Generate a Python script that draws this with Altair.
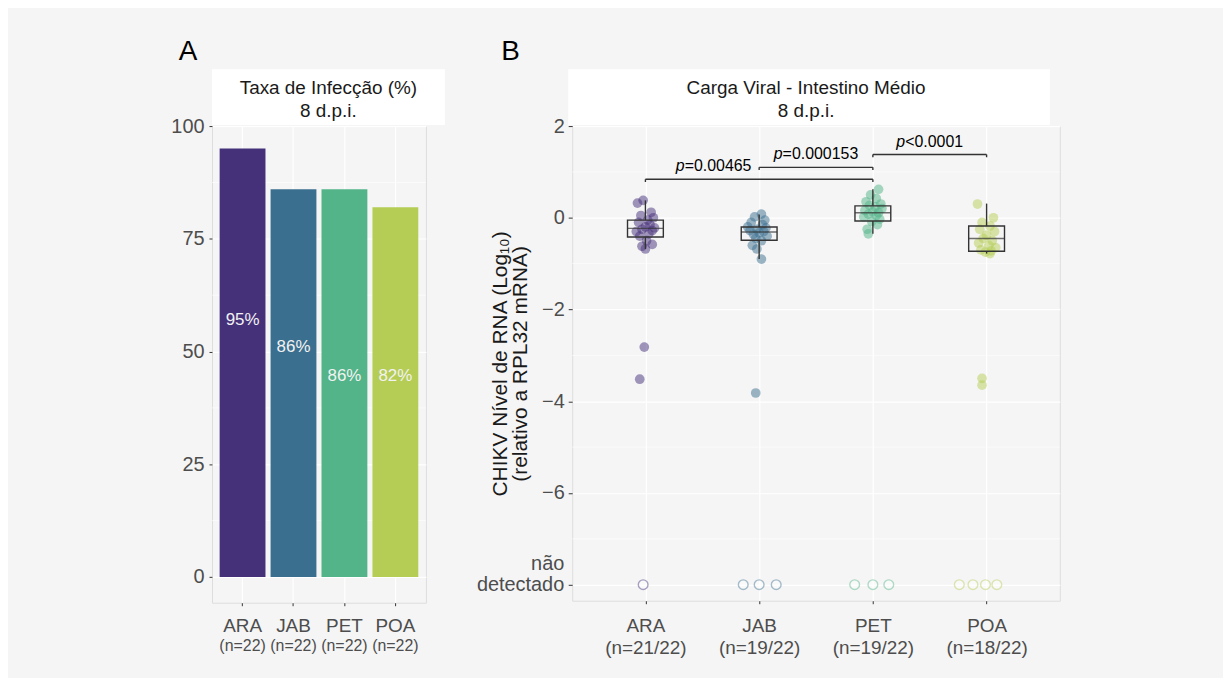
import json
import altair as alt
import pandas as pd

# ---------------- data ----------------
pops = ["ARA", "JAB", "PET", "POA"]
pop_colors = ["#45307a", "#3b6f8f", "#52b488", "#b5cd55"]

# Panel A
infection_rate = [95, 86, 86, 82]
rate_text = ["95%", "86%", "86%", "82%"]
rate_text_y = [57, 51, 44.5, 44.5]
n_text_a = ["(n=22)", "(n=22)", "(n=22)", "(n=22)"]
a_y_ticks = [0, 25, 50, 75, 100]
a_y_minor = [12.5, 37.5, 62.5, 87.5]

# Panel B (log10 viral load, detected samples)
ara_vals = [0.38, 0.32, 0.12, 0.05, 0.0, -0.05, -0.1, -0.15, -0.2, -0.22, -0.25,
            -0.28, -0.3, -0.35, -0.4, -0.5, -0.58, -0.62, -0.68, -2.82, -3.52]
ara_jit = [-0.02, -0.07, 0.05, -0.04, 0.07, 0.02, -0.06, 0.04, 0.0, 0.08, -0.03,
           0.06, -0.08, 0.03, -0.05, 0.01, 0.06, -0.03, 0.0, -0.01, -0.05]
jab_vals = [0.08, 0.02, -0.05, -0.1, -0.15, -0.2, -0.22, -0.25, -0.28, -0.3,
            -0.33, -0.36, -0.4, -0.45, -0.5, -0.6, -0.68, -0.9, -3.82]
jab_jit = [0.02, -0.04, 0.05, -0.07, 0.03, -0.1, 0.06, -0.02, -0.08, 0.04,
           0.0, -0.05, 0.07, -0.03, 0.02, -0.06, -0.02, 0.02, -0.03]
pet_vals = [0.62, 0.5, 0.42, 0.35, 0.3, 0.27, 0.24, 0.2, 0.16, 0.13, 0.11,
            0.08, 0.05, 0.02, -0.03, -0.08, -0.15, -0.25, -0.35]
pet_jit = [0.05, -0.02, 0.03, -0.06, 0.07, -0.03, 0.02, 0.08, -0.07, 0.0, 0.05,
           -0.04, 0.03, -0.08, 0.06, -0.01, 0.04, -0.05, -0.04]
poa_vals = [0.3, 0.0, -0.1, -0.18, -0.25, -0.3, -0.38, -0.45, -0.5, -0.55,
            -0.6, -0.65, -0.7, -0.72, -0.75, -0.78, -3.5, -3.65]
poa_jit = [-0.08, 0.06, -0.04, 0.03, -0.06, 0.07, 0.0, -0.03, 0.05, -0.07,
           0.02, 0.08, -0.05, 0.04, -0.01, 0.03, -0.04, -0.04]

# not detected samples (plotted at the "não detectado" level)
nd_level = -8
ara_nd_jit = [-0.02]
jab_nd_jit = [-0.14, 0.0, 0.15]
pet_nd_jit = [-0.16, 0.0, 0.14]
poa_nd_jit = [-0.24, -0.12, -0.01, 0.09]

# box summaries
box_lo = [-0.68, -0.9, -0.35, -0.78]
box_q1 = [-0.42, -0.49, -0.07, -0.73]
box_med = [-0.23, -0.31, 0.11, -0.45]
box_q3 = [-0.05, -0.2, 0.26, -0.18]
box_hi = [0.38, 0.07, 0.62, 0.31]

n_text_b = ["(n=21/22)", "(n=19/22)", "(n=19/22)", "(n=18/22)"]
b_y_ticks = [2, 0, -2, -4, -6, -8]
b_y_minor = [1, -1, -3, -5, -7]

# significance brackets
br_from = [1, 2, 3]
br_to = [3, 3, 4]
br_y = [0.84, 1.1, 1.38]
br_text = ["=0.00465", "=0.000153", "<0.0001"]
br_text_x = [1.6, 2.5, 3.5]
br_text_y = [1.12, 1.39, 1.66]

strip_a = ["Taxa de Infecção (%)", "8 d.p.i."]
strip_b = ["Carga Viral - Intestino Médio", "8 d.p.i."]
b_y_title = ["CHIKV Nível de RNA (Log\u2081\u2080)", "(relativo a  RPL32 mRNA)"]

# ---------------- style ----------------
FONT = "Liberation Sans"
LAB = "#4d4d4d"
TXT = "#1a1a1a"
TICK = "#333333"
WA, HA = 215, 479
WB, HB = 490, 477

color_scale = alt.Scale(domain=pops, range=pop_colors)

# ---------------- panel A ----------------
df_a = pd.DataFrame({"pop": pops, "rate": infection_rate, "lab": rate_text,
                     "laby": rate_text_y, "n": n_text_a})

xA = alt.X("pop:N", sort=pops,
           scale=alt.Scale(paddingInner=0.1, paddingOuter=0.15),
           axis=alt.Axis(title=None, labelFontSize=19, labelColor=LAB, labelAngle=0,
                         labelPadding=11, tickSize=3, tickColor=TICK, domain=False,
                         grid=True, gridColor="white", gridWidth=1.2,
                         bandPosition=0.5))
yA_scale = alt.Scale(domain=[-5.7, 100], nice=False, zero=False)
yA_axis = alt.Axis(title=None, values=a_y_ticks, labelFontSize=20, labelColor=LAB,
                   labelPadding=5, tickSize=3, tickColor=TICK, domain=False,
                   grid=True, gridColor="white", gridWidth=1.2)

minorA = alt.Chart(pd.DataFrame({"v": a_y_minor})).mark_rule(
    color="white", strokeWidth=0.6).encode(y=alt.Y("v:Q", scale=yA_scale, axis=yA_axis))
barsA = alt.Chart(df_a).mark_bar().encode(
    x=xA, y=alt.Y("rate:Q", scale=yA_scale, axis=yA_axis),
    color=alt.Color("pop:N", scale=color_scale, legend=None))
labA = alt.Chart(df_a).mark_text(fontSize=17, color="#f2f2f2", font=FONT).encode(
    x=xA, y=alt.Y("laby:Q", scale=yA_scale, axis=yA_axis), text="lab:N")
nA = alt.Chart(df_a).mark_text(fontSize=16, color=LAB, font=FONT, baseline="middle").encode(
    x=xA, y=alt.value(HA + 44), text="n:N")
one = alt.Data(values=[{"k": 1}])
stripA = alt.Chart(one).mark_rect(color="white").encode(
    x=alt.value(0), x2=alt.value(WA + 19), y=alt.value(-57), y2=alt.value(-1))
stripTA = alt.Chart(one).mark_text(text=strip_a, fontSize=19, color=TXT, font=FONT,
                                   lineHeight=23, baseline="middle").encode(
    x=alt.value((WA + 19) / 2), y=alt.value(-38))
letterA = alt.Chart(one).mark_text(text="A", fontSize=28, color="black", font=FONT,
                                   baseline="middle").encode(
    x=alt.value(-24), y=alt.value(-74))

panelA = alt.layer(minorA, barsA, labA, nA, stripA, stripTA, letterA).properties(
    width=WA, height=HA)

# ---------------- panel B ----------------
rows = []
for p, vals, jit in [("ARA", ara_vals, ara_jit), ("JAB", jab_vals, jab_jit),
                     ("PET", pet_vals, pet_jit), ("POA", poa_vals, poa_jit)]:
    for v, j in zip(vals, jit):
        rows.append({"pop": p, "idx": pops.index(p) + 1, "jit": j, "val": v})
df_pts = pd.DataFrame(rows)
rows = []
for p, jit in [("ARA", ara_nd_jit), ("JAB", jab_nd_jit), ("PET", pet_nd_jit),
               ("POA", poa_nd_jit)]:
    for j in jit:
        rows.append({"pop": p, "idx": pops.index(p) + 1, "jit": j, "val": nd_level})
df_nd = pd.DataFrame(rows)
df_box = pd.DataFrame({"pop": pops, "idx": [1, 2, 3, 4], "lo": box_lo, "q1": box_q1,
                       "med": box_med, "q3": box_q3, "hi": box_hi})
df_br = pd.DataFrame({"a": br_from, "b": br_to, "y": br_y})
df_brend = pd.DataFrame({"x": br_from + br_to, "y": br_y + br_y})

label_arrays = [[p, n] for p, n in zip(pops, n_text_b)]
xB_scale = alt.Scale(domain=[0.4, 4.6], nice=False, zero=False)
xB_axis = alt.Axis(title=None, values=[1, 2, 3, 4],
                   labelExpr=json.dumps(label_arrays) + "[datum.value - 1]",
                   labelFontSize=19, labelColor=LAB, labelLineHeight=22,
                   labelPadding=13, tickSize=3, tickColor=TICK, domain=False,
                   grid=True, gridColor="white", gridWidth=1.2, labelBaseline="top")
yB_scale = alt.Scale(domain=[-8.35, 2.0], nice=False, zero=False)
yB_axis = alt.Axis(title=b_y_title, values=b_y_ticks,
                   labelExpr="datum.value == -8 ? '' : (datum.value < 0 ? '\u2212' + abs(datum.value) : '' + datum.value)",
                   labelFontSize=20, labelColor=LAB, labelPadding=4, tickSize=4,
                   tickColor=TICK, domain=False, grid=True, gridColor="white",
                   gridWidth=1.2, titleFontSize=21, titleFontWeight="normal",
                   titleColor=TXT, titlePadding=11, titleLineHeight=20)


def xb(f):
    return alt.X(f, type="quantitative", scale=xB_scale, axis=xB_axis)


def yb(f):
    return alt.Y(f, type="quantitative", scale=yB_scale, axis=yB_axis)


minorB = alt.Chart(pd.DataFrame({"v": b_y_minor})).mark_rule(
    color="white", strokeWidth=0.6).encode(y=yb("v"))
ndB = alt.Chart(df_nd).transform_calculate(xp="datum.idx + datum.jit").mark_point(
    shape="circle", filled=False, size=95, strokeWidth=1.4, strokeOpacity=0.45,
    fill="white", fillOpacity=0.45).encode(
    x=xb("xp"), y=yb("val"),
    color=alt.Color("pop:N", scale=color_scale, legend=None))
ptsB = alt.Chart(df_pts).transform_calculate(xp="datum.idx + datum.jit").mark_circle(
    size=95, opacity=0.5).encode(
    x=xb("xp"), y=yb("val"),
    color=alt.Color("pop:N", scale=color_scale, legend=None))
whisk1 = alt.Chart(df_box).mark_rule(color=TICK, strokeWidth=1.4).encode(
    x=xb("idx"), y=yb("q3"), y2="hi")
whisk2 = alt.Chart(df_box).mark_rule(color=TICK, strokeWidth=1.4).encode(
    x=xb("idx"), y=yb("lo"), y2="q1")
boxB = alt.Chart(df_box).mark_bar(size=36, fillOpacity=0, stroke=TICK,
                                  strokeWidth=1.4).encode(
    x=xb("idx"), y=yb("q1"), y2="q3")
medB = alt.Chart(df_box).mark_tick(orient="horizontal", size=36, thickness=1.4,
                                   color=TICK).encode(x=xb("idx"), y=yb("med"))
brB = alt.Chart(df_br).mark_rule(color=TICK, strokeWidth=1.4).encode(
    x=xb("a"), x2="b", y=yb("y"))
brEnd = alt.Chart(df_brend).transform_calculate(y2="datum.y - 0.06").mark_rule(
    color=TICK, strokeWidth=1.4).encode(x=xb("x"), y=yb("y"), y2="y2:Q")

# p-value text: italic "p" followed by the rest
CW = {"=": 0.584, "<": 0.584, ".": 0.278, "p": 0.556}
PFS = 16


def tw(s):
    return sum(CW.get(c, 0.556) for c in s) * PFS


p_layers = []
for tx, lx, ly in zip(br_text, br_text_x, br_text_y):
    total = tw("p") + tw(tx)
    d = pd.DataFrame({"x": [lx], "y": [ly], "t": [tx]})
    p_layers.append(alt.Chart(d).mark_text(
        text="p", fontStyle="italic", fontSize=PFS, color="black", font=FONT,
        align="left", dx=-total / 2).encode(x=xb("x"), y=yb("y")))
    p_layers.append(alt.Chart(d).mark_text(
        fontSize=PFS, color="black", font=FONT, align="left",
        dx=-total / 2 + tw("p")).encode(x=xb("x"), y=yb("y"), text="t:N"))

ndlab = pd.DataFrame({"y": [nd_level, nd_level], "t": ["detectado", "não"]})
ndText1 = alt.Chart(ndlab.iloc[[0]]).mark_text(
    fontSize=20, color=LAB, font=FONT, align="right", baseline="middle").encode(
    x=alt.value(-8), y=yb("y"), text="t:N")
ndText2 = alt.Chart(ndlab.iloc[[1]]).mark_text(
    fontSize=20, color=LAB, font=FONT, align="right", baseline="middle", dy=-21).encode(
    x=alt.value(-8), y=yb("y"), text="t:N")

stripB = alt.Chart(one).mark_rect(color="white").encode(
    x=alt.value(-4), x2=alt.value(WB - 10), y=alt.value(-57), y2=alt.value(-1))
stripTB = alt.Chart(one).mark_text(text=strip_b, fontSize=19, color=TXT, font=FONT,
                                   lineHeight=23, baseline="middle").encode(
    x=alt.value(WB / 2 - 10), y=alt.value(-38))
letterB = alt.Chart(one).mark_text(text="B", fontSize=28, color="black", font=FONT,
                                   baseline="middle").encode(
    x=alt.value(-62), y=alt.value(-74))

panelB = alt.layer(minorB, ndB, ptsB, whisk1, whisk2, boxB, medB, brB, brEnd,
                   *p_layers, ndText1, ndText2, stripB, stripTB, letterB).properties(
    width=WB, height=HB)

chart = alt.hconcat(panelA, panelB, spacing=30).properties(
    padding={"left": 163, "top": 28, "right": 163, "bottom": 18},
    background="#f5f5f5",
).configure_view(fill="#ebebeb", stroke=None).configure(font=FONT)

chart.save("out.html", embed_options={"renderer": "svg", "actions": False})
